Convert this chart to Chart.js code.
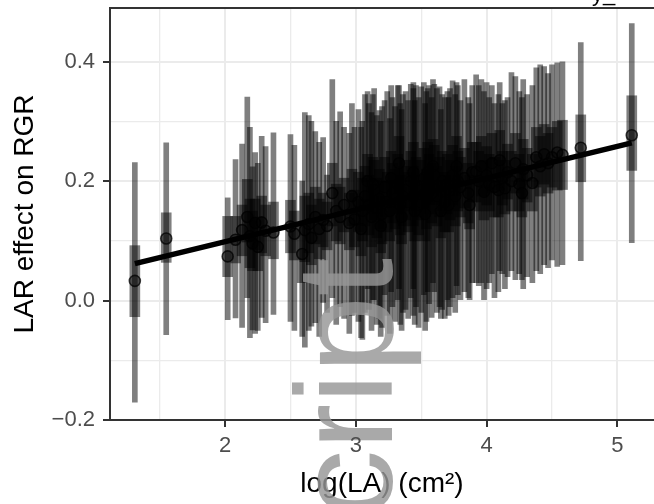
<!DOCTYPE html>
<html><head><meta charset="utf-8">
<script src="https://cdn.jsdelivr.net/npm/chart.js@4/dist/chart.umd.min.js"></script>
<style>html,body{margin:0;padding:0;background:#fff;overflow:hidden}canvas{display:block}</style>
</head><body>
<canvas id="c" width="654" height="504"></canvas>
<script>
// log leaf area (x)
const la = [
1.31,1.55,2.02,2.08,2.13,2.17,2.19,2.21,2.23,2.25,
2.28,2.31,2.37,2.50,2.53,2.59,2.61,2.64,2.66,2.69,
2.72,2.75,2.78,2.82,2.85,2.88,2.91,2.95,2.97,2.99,
3.02,3.04,3.05,3.07,3.09,3.10,3.12,3.13,3.14,3.16,
3.18,3.19,3.20,3.22,3.24,3.26,3.27,3.28,3.30,3.32,
3.33,3.34,3.35,3.36,3.38,3.40,3.42,3.44,3.44,3.45,
3.46,3.48,3.50,3.52,3.53,3.54,3.55,3.56,3.58,3.59,
3.60,3.62,3.64,3.65,3.66,3.68,3.70,3.71,3.72,3.74,
3.76,3.77,3.78,3.80,3.83,3.86,3.87,3.89,3.92,3.94,
3.96,3.98,4.00,4.02,4.04,4.06,4.09,4.10,4.12,4.14,
4.16,4.19,4.22,4.25,4.27,4.28,4.31,4.35,4.38,4.41,
4.44,4.47,4.50,4.54,4.58,4.72,5.11];
// LAR effect on RGR (point estimate)
const effect = [
0.033,0.104,0.074,0.102,0.118,0.140,0.108,0.096,0.130,0.090,
0.131,0.117,0.114,0.124,0.112,0.078,0.118,0.128,0.105,0.140,
0.120,0.135,0.125,0.180,0.150,0.140,0.160,0.130,0.175,0.136,
0.165,0.120,0.150,0.175,0.200,0.160,0.140,0.195,0.185,0.155,
0.170,0.125,0.145,0.190,0.165,0.150,0.205,0.180,0.170,0.195,
0.230,0.160,0.140,0.175,0.185,0.165,0.200,0.175,0.215,0.150,
0.190,0.160,0.185,0.205,0.145,0.170,0.215,0.195,0.180,0.225,
0.210,0.175,0.190,0.150,0.200,0.165,0.195,0.160,0.185,0.210,
0.175,0.225,0.200,0.190,0.205,0.180,0.160,0.215,0.216,0.200,
0.225,0.182,0.210,0.195,0.230,0.190,0.185,0.235,0.205,0.188,
0.215,0.200,0.230,0.195,0.180,0.220,0.210,0.197,0.240,0.225,
0.245,0.230,0.240,0.248,0.244,0.256,0.277];
// outer (thin) interval
const lo95 = [
-0.170,-0.057,-0.032,-0.029,-0.045,0.005,-0.062,-0.049,-0.055,-0.050,
-0.028,-0.037,-0.023,-0.035,-0.050,-0.060,-0.078,-0.050,-0.043,-0.037,
-0.060,-0.003,-0.020,0.005,-0.040,-0.010,-0.030,-0.055,-0.025,-0.020,
-0.035,-0.062,-0.065,-0.020,0.020,-0.015,-0.050,0.000,0.000,-0.040,
-0.030,-0.060,-0.045,0.010,-0.025,-0.055,0.015,-0.010,-0.035,0.000,
0.020,-0.040,-0.050,-0.020,-0.015,-0.030,0.005,-0.025,0.020,-0.040,
-0.010,-0.045,-0.020,0.010,-0.050,-0.035,0.015,-0.005,-0.028,0.030,
0.015,-0.020,-0.010,-0.030,-0.015,-0.030,0.000,-0.025,-0.010,0.005,
-0.020,0.025,0.010,0.000,0.015,0.005,0.000,0.030,0.030,0.025,
0.030,0.000,0.020,0.030,0.045,0.005,0.015,0.050,0.045,0.020,
0.040,0.050,0.035,0.045,0.035,0.020,0.040,0.030,0.050,0.045,
0.060,0.055,0.068,0.057,0.060,0.067,0.097];
const hi95 = [
0.231,0.264,0.172,0.236,0.262,0.341,0.290,0.224,0.248,0.230,
0.275,0.258,0.281,0.278,0.260,0.200,0.315,0.310,0.300,0.283,
0.265,0.273,0.210,0.370,0.300,0.316,0.290,0.280,0.330,0.290,
0.320,0.290,0.300,0.345,0.350,0.330,0.315,0.345,0.355,0.310,
0.318,0.300,0.325,0.335,0.350,0.305,0.360,0.340,0.325,0.360,
0.360,0.330,0.320,0.345,0.350,0.335,0.362,0.355,0.365,0.335,
0.360,0.340,0.358,0.365,0.330,0.350,0.355,0.360,0.340,0.370,
0.362,0.355,0.358,0.320,0.345,0.340,0.350,0.340,0.355,0.368,
0.345,0.365,0.360,0.335,0.370,0.340,0.330,0.360,0.378,0.360,
0.370,0.350,0.365,0.340,0.360,0.330,0.345,0.365,0.330,0.335,
0.340,0.382,0.375,0.350,0.340,0.370,0.345,0.360,0.390,0.395,
0.392,0.380,0.395,0.398,0.400,0.432,0.464];
// inner (thick) interval
const lo50 = [
-0.027,0.064,0.040,0.063,0.075,0.098,0.055,0.050,0.085,0.050,
0.080,0.075,0.070,0.080,0.068,0.030,0.065,0.080,0.060,0.095,
0.070,0.090,0.085,0.125,0.100,0.095,0.115,0.085,0.125,0.090,
0.115,0.075,0.100,0.125,0.150,0.110,0.090,0.145,0.135,0.105,
0.120,0.080,0.095,0.140,0.115,0.100,0.155,0.130,0.120,0.145,
0.180,0.110,0.095,0.125,0.135,0.115,0.150,0.125,0.165,0.100,
0.140,0.110,0.135,0.155,0.100,0.120,0.165,0.145,0.130,0.175,
0.160,0.125,0.140,0.105,0.150,0.115,0.145,0.115,0.135,0.160,
0.125,0.175,0.150,0.140,0.155,0.130,0.120,0.165,0.165,0.150,
0.175,0.135,0.160,0.150,0.180,0.140,0.140,0.185,0.160,0.145,
0.170,0.150,0.180,0.150,0.140,0.170,0.165,0.150,0.190,0.175,
0.195,0.180,0.190,0.185,0.186,0.199,0.218];
const hi50 = [
0.092,0.147,0.141,0.141,0.160,0.203,0.170,0.150,0.170,0.140,
0.175,0.160,0.165,0.168,0.150,0.125,0.175,0.180,0.160,0.190,
0.170,0.180,0.165,0.230,0.195,0.190,0.205,0.180,0.220,0.185,
0.215,0.170,0.205,0.225,0.245,0.210,0.195,0.240,0.235,0.205,
0.220,0.175,0.200,0.240,0.215,0.200,0.250,0.230,0.220,0.245,
0.275,0.210,0.190,0.225,0.235,0.215,0.250,0.225,0.265,0.200,
0.240,0.210,0.235,0.255,0.195,0.220,0.265,0.245,0.230,0.270,
0.260,0.225,0.240,0.200,0.250,0.215,0.245,0.210,0.235,0.260,
0.225,0.275,0.250,0.240,0.255,0.230,0.210,0.265,0.265,0.250,
0.275,0.235,0.258,0.245,0.280,0.240,0.235,0.285,0.250,0.235,
0.262,0.250,0.280,0.245,0.225,0.270,0.255,0.245,0.290,0.275,
0.295,0.280,0.290,0.300,0.302,0.311,0.343];
// fitted regression line
const fitLA = [1.31, 5.11];
const fitEffect = [0.062, 0.264];
// axis ticks
const xTicks = [2, 3, 4, 5];
const yTicks = [-0.2, 0.0, 0.2, 0.4];

const FONT = '"Liberation Sans", Arial, Helvetica, sans-serif';
const isMajor = (arr, v) => arr.some(t => Math.abs(t - v) < 1e-6);

const thinData = la.map((x, i) => ({x: x, y: [lo95[i], hi95[i]]}));
const thickData = la.map((x, i) => ({x: x, y: [lo50[i], hi50[i]]}));
const pointData = la.map((x, i) => ({x: x, y: effect[i]}));
const fitData = fitLA.map((x, i) => ({x: x, y: fitEffect[i]}));

const decor = {
  id: 'decor',
  afterDatasetsDraw(chart) {
    const ctx = chart.ctx;
    ctx.save();
    ctx.fillStyle = 'rgba(150,150,150,0.82)';
    ctx.font = '138px ' + FONT;
    ctx.translate(392, 258);
    ctx.rotate(-Math.PI / 2);
    ctx.textAlign = 'right';
    ctx.textBaseline = 'alphabetic';
    ctx.fillText('Manuscript', 0, 0);
    ctx.restore();
  },
  afterDraw(chart) {
    const {ctx, chartArea} = chart;
    ctx.save();
    ctx.strokeStyle = '#333333';
    ctx.lineWidth = 2;
    ctx.beginPath();
    ctx.moveTo(chartArea.left - 1, chartArea.top);
    ctx.lineTo(chartArea.right, chartArea.top);
    ctx.stroke();
    ctx.fillStyle = '#000';
    ctx.font = '22px ' + FONT;
    ctx.textAlign = 'left';
    ctx.textBaseline = 'alphabetic';
    ctx.fillText('y_', 592, 0.5);
    ctx.restore();
  }
};

new Chart(document.getElementById('c'), {
  type: 'scatter',
  data: {
    datasets: [
      {type: 'line', data: fitData, borderColor: '#000', borderWidth: 5.5, pointRadius: 0, fill: false, order: 1, borderCapStyle: 'butt'},
      {type: 'scatter', data: pointData, pointRadius: 5.5, backgroundColor: 'rgba(0,0,0,0.4)', borderColor: 'rgba(0,0,0,0.75)', borderWidth: 1.6, order: 2},
      {type: 'bar', data: thickData, backgroundColor: 'rgba(0,0,0,0.5)', barThickness: 10, grouped: false, borderWidth: 0, borderSkipped: false, order: 3},
      {type: 'bar', data: thinData, backgroundColor: 'rgba(0,0,0,0.5)', barThickness: 5, grouped: false, borderWidth: 0, borderSkipped: false, order: 4}
    ]
  },
  options: {
    responsive: false,
    animation: false,
    devicePixelRatio: 1,
    layout: {autoPadding: false, padding: {left: 0, right: 0, top: 8, bottom: 0}},
    plugins: {legend: {display: false}, tooltip: {enabled: false}},
    scales: {
      x: {
        type: 'linear', min: 1.12, max: 5.28, offset: false,
        afterFit: (s) => { s.height = 84; s.paddingLeft = 0; s.paddingRight = 0; },
        grid: {
          offset: false, drawTicks: true, tickLength: 7,
          color: '#ebebeb',
          lineWidth: (c) => isMajor(xTicks, c.tick.value) ? 2 : 1.3,
          tickColor: (c) => isMajor(xTicks, c.tick.value) ? '#333333' : 'rgba(0,0,0,0)',
          tickWidth: 2
        },
        border: {display: true, color: '#333333', width: 2},
        ticks: {
          stepSize: 0.5, includeBounds: false, autoSkip: false, maxRotation: 0, padding: 6, z: 1,
          color: '#4d4d4d', font: {family: FONT, size: 22},
          callback: (v) => isMajor(xTicks, v) ? String(Math.round(v)) : ''
        },
        title: {display: true, text: 'log(LA) (cm²)', color: '#000', font: {family: FONT, size: 28}, padding: {top: 0, bottom: 3}}
      },
      y: {
        type: 'linear', min: -0.2, max: 0.49, beginAtZero: false,
        afterFit: (s) => { s.width = 110; s.paddingTop = 0; s.paddingBottom = 0; },
        grid: {
          drawTicks: true, tickLength: 7,
          color: '#ebebeb',
          lineWidth: (c) => isMajor(yTicks, c.tick.value) ? 2 : 1.3,
          tickColor: (c) => isMajor(yTicks, c.tick.value) ? '#333333' : 'rgba(0,0,0,0)',
          tickWidth: 2
        },
        border: {display: true, color: '#333333', width: 2},
        ticks: {
          stepSize: 0.1, includeBounds: false, autoSkip: false, padding: 8,
          color: '#4d4d4d', font: {family: FONT, size: 22},
          callback: (v) => isMajor(yTicks, v) ? v.toFixed(1).replace('-', '\u2212') : ''
        },
        title: {display: true, text: 'LAR effect on RGR', color: '#000', font: {family: FONT, size: 28}, padding: {top: 8, bottom: 0}}
      }
    }
  },
  plugins: [decor]
});
</script>
</body></html>
